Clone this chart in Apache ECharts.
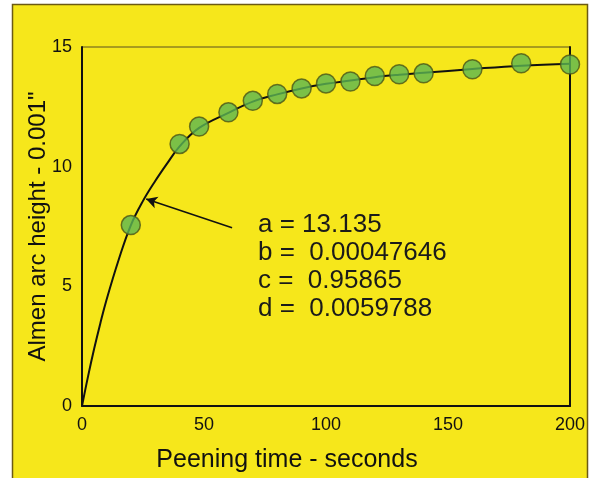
<!DOCTYPE html>
<html>
<head>
<meta charset="utf-8">
<script src="https://cdn.jsdelivr.net/npm/echarts@6/dist/echarts.min.js"></script>
<style>
html,body{margin:0;padding:0;background:#fff;}
#container{width:598px;height:478px;}
</style>
</head>
<body>
<div id="container"></div>
<script>
// measured points
var peenTime = [20, 40, 48, 60, 70, 80, 90, 100, 110, 120, 130, 140, 160, 180, 200];
var arcHeight = [7.56, 10.95, 11.68, 12.27, 12.75, 13.04, 13.27, 13.48, 13.56, 13.79, 13.86, 13.9, 14.07, 14.32, 14.27];

// fitted curve
var curveTime = [0, 2.5, 5, 7.5, 10, 15, 20, 25, 30, 35, 40, 48, 60, 70, 80, 90, 100, 110, 120, 130, 140, 160, 180, 200];
var curveHeight = [0, 1.25, 2.4, 3.45, 4.42, 6.1, 7.55, 8.57, 9.4, 10.15, 10.85, 11.62, 12.25, 12.72, 13.02, 13.27, 13.46, 13.6, 13.74, 13.84, 13.92, 14.08, 14.22, 14.3];

var xTicks = [0, 50, 100, 150, 200];
var yTicks = [0, 5, 10, 15];

var fitLines = ['a = 13.135', 'b =  0.00047646', 'c =  0.95865', 'd =  0.0059788'];
var arrowFrom = [61.5, 7.45];
var arrowTo = [26.3, 8.65];

var dom = document.getElementById("container");
var myChart = echarts.init(dom);
var font = '"Liberation Sans", Arial, sans-serif';

var points = peenTime.map(function (t, i) { return [t, arcHeight[i]]; });
var curve = curveTime.map(function (t, i) { return [t, curveHeight[i]]; });

var texts = fitLines.map(function (s, i) {
    return {
        type: 'text',
        left: 258,
        top: 212 + i * 28,
        style: {text: s, fill: '#1a1a1a', font: '26px ' + font}
    };
});

var option = {
    animation: false,
    backgroundColor: '#ffffff',
    graphic: [
        {
            type: 'rect',
            z: -10,
            shape: {x: 12.5, y: 4.5, width: 575, height: 490},
            style: {fill: '#f6e71b', stroke: '#6b5a14', lineWidth: 1.5}
        }
    ].concat(texts),
    grid: {
        left: 82,
        right: 28,
        top: 47,
        bottom: 72,
        show: true,
        borderColor: '#5a5020',
        borderWidth: 1
    },
    xAxis: {
        type: 'value',
        min: 0,
        max: 200,
        interval: 50,
        name: 'Peening time - seconds',
        nameLocation: 'middle',
        nameGap: 42,
        nameMoveOverlap: false,
        nameTextStyle: {fontSize: 25, color: '#111', fontFamily: font, padding: [0, 78, 0, 0]},
        axisLine: {show: true, lineStyle: {color: '#111', width: 2}},
        axisTick: {show: false},
        splitLine: {show: false},
        axisLabel: {
            fontSize: 18, color: '#111', fontFamily: font, margin: 10,
            formatter: function (v) { return xTicks.indexOf(v) >= 0 ? String(v) : ''; }
        }
    },
    yAxis: [
        {
            type: 'value',
            min: 0,
            max: 15,
            interval: 5,
            name: 'Almen arc height - 0.001"',
            nameLocation: 'middle',
            nameGap: 32,
            nameMoveOverlap: false,
            nameTextStyle: {fontSize: 24, color: '#111', fontFamily: font},
            axisLine: {show: true, lineStyle: {color: '#111', width: 2}},
            axisTick: {show: false},
            splitLine: {show: false},
            axisLabel: {
                fontSize: 18, color: '#111', fontFamily: font, margin: 10,
                formatter: function (v) { return yTicks.indexOf(v) >= 0 ? String(v) : ''; }
            }
        },
        {
            type: 'value',
            position: 'right',
            min: 0,
            max: 15,
            interval: 5,
            axisLine: {show: true, lineStyle: {color: '#111', width: 2}},
            axisTick: {show: false},
            axisLabel: {show: false},
            splitLine: {show: false}
        }
    ],
    series: [
        {
            type: 'line',
            data: curve,
            smooth: 0.4,
            showSymbol: false,
            lineStyle: {color: '#111', width: 2},
            z: 2,
            markLine: {
                silent: true,
                symbol: ['none', 'arrow'],
                symbolSize: [9, 11],
                label: {show: false},
                lineStyle: {color: '#111', width: 1.5, type: 'solid'},
                data: [[{coord: arrowFrom}, {coord: arrowTo}]]
            }
        },
        {
            type: 'scatter',
            data: points,
            symbol: 'circle',
            symbolSize: 19,
            z: 3,
            itemStyle: {color: '#5cb653', borderColor: '#4a5518', borderWidth: 1.5}
        }
    ]
};
myChart.setOption(option);
</script>
</body>
</html>
